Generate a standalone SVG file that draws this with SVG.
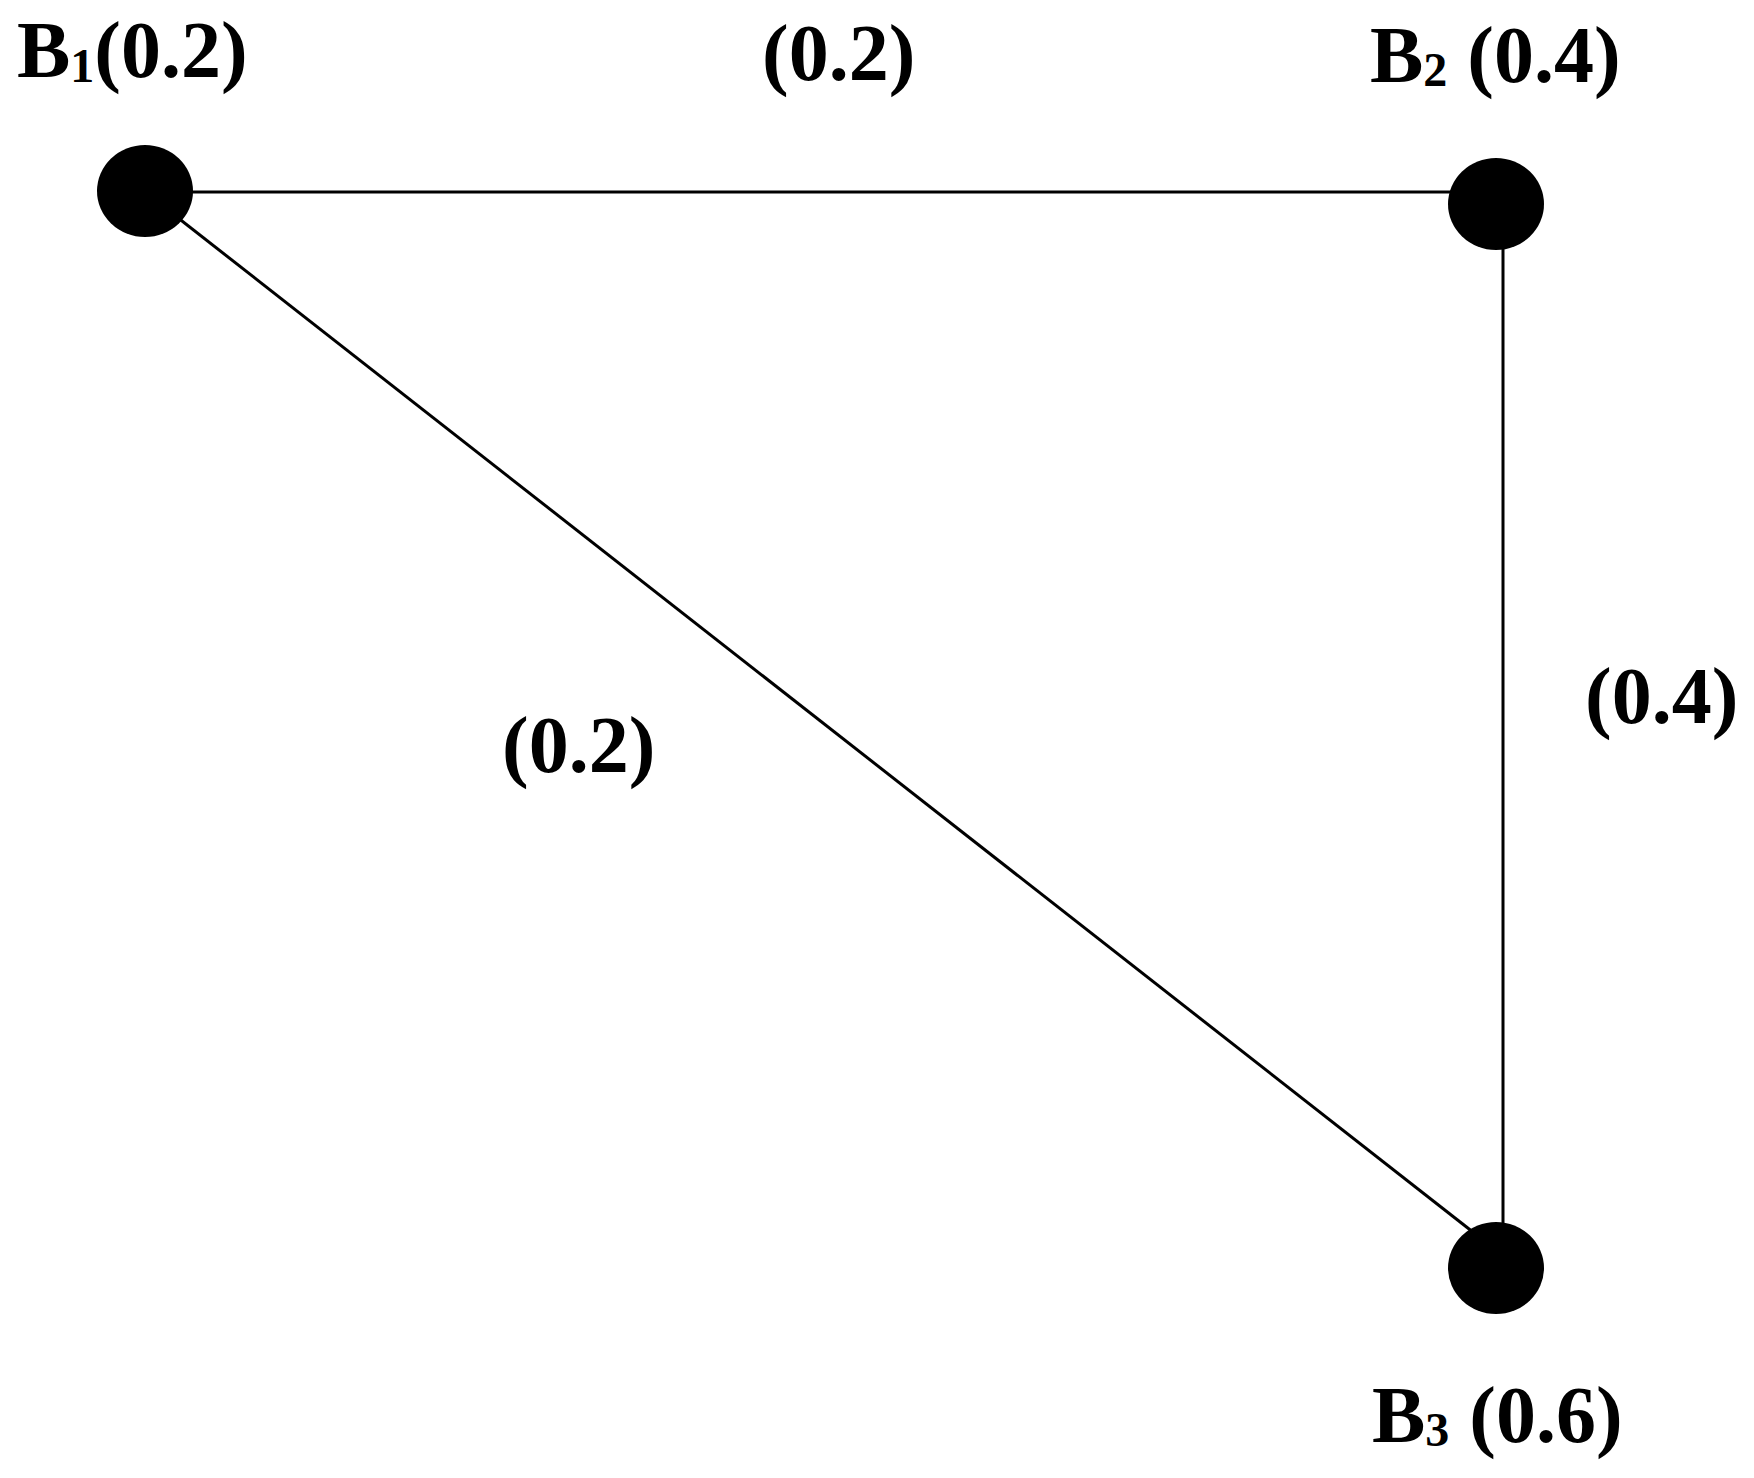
<svg xmlns="http://www.w3.org/2000/svg" width="1754" height="1478" viewBox="0 0 1754 1478">
<style>
.lbl{font-family:"Liberation Serif","Times New Roman",serif;font-weight:bold;font-size:80px;fill:#000}
.sub{font-size:48px}
.edge{stroke:#000;stroke-width:3;fill:none}
.node{fill:#000}
</style>
<rect width="1754" height="1478" fill="#fff"/>
<g id="connectors">
<line class="edge" x1="145" y1="192" x2="1496" y2="192"/>
<line class="edge" x1="1503" y1="204" x2="1503" y2="1268"/>
<line class="edge" x1="145" y1="192" x2="1478" y2="1236"/>
</g>
<g id="edge-labels">
<text class="lbl" x="762" y="80">(0.2)</text>
<text class="lbl" x="502" y="772">(0.2)</text>
<text class="lbl" x="1585" y="723">(0.4)</text>
</g>
<g id="B1">
<ellipse class="node" cx="145" cy="191" rx="48" ry="46"/>
<text class="lbl" x="17" y="77">B<tspan class="sub" dy="5">1</tspan><tspan dy="-5">(0.2)</tspan></text>
</g>
<g id="B2">
<ellipse class="node" cx="1496" cy="204" rx="48" ry="46"/>
<text class="lbl" x="1370" y="82">B<tspan class="sub" dy="4">2</tspan><tspan dy="-4"> (0.4)</tspan></text>
</g>
<g id="B3">
<ellipse class="node" cx="1496" cy="1268" rx="48" ry="46"/>
<text class="lbl" x="1372" y="1442">B<tspan class="sub" dy="4">3</tspan><tspan dy="-4"> (0.6)</tspan></text>
</g>
</svg>
